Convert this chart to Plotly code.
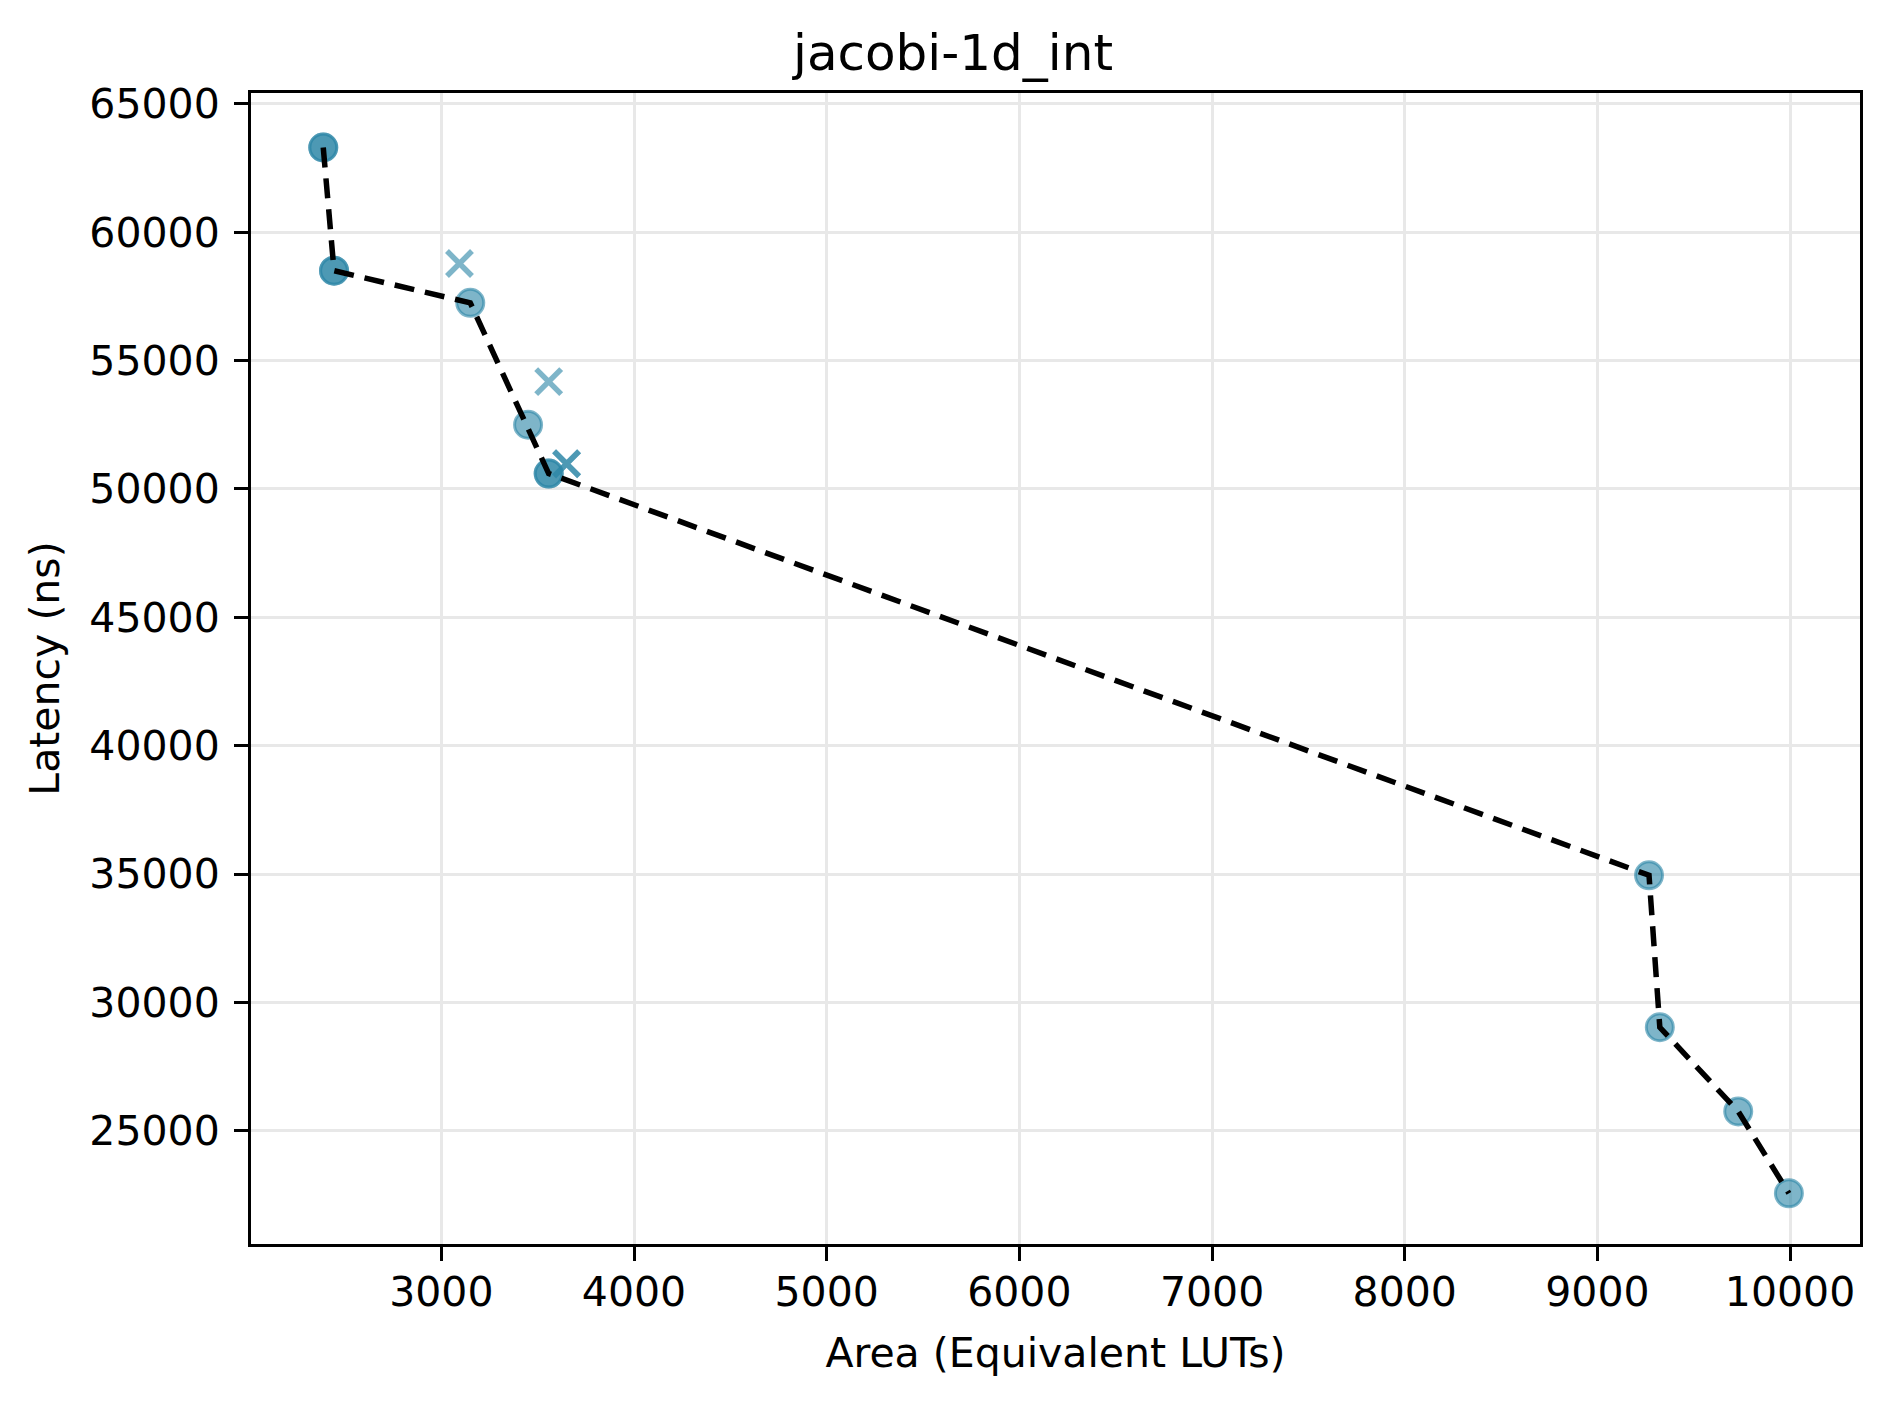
import plotly.graph_objects as go

# Puntos de diseño (circulos) - algunos repetidos, por eso se ven mas oscuros
area_circulos = [2387, 2387, 2443, 2443, 3150, 3450, 3557, 3557, 9268, 9324, 9731, 9994]
latencia_circulos = [63300, 63300, 58500, 58500, 57250, 52500, 50600, 50600, 34950, 29030, 25750, 22560]

# Puntos fallidos / descartados (cruces)
area_cruces = [3094, 3557, 3650, 3650]
latencia_cruces = [58780, 54180, 50980, 50980]

# Frontera de Pareto
area_pareto = [2387, 2443, 3150, 3557, 9268, 9324, 9731, 9994]
latencia_pareto = [63300, 58500, 57250, 50600, 34950, 29030, 25750, 22560]

x_ticks = [3000, 4000, 5000, 6000, 7000, 8000, 9000, 10000]
y_ticks = [25000, 30000, 35000, 40000, 45000, 50000, 55000, 60000, 65000]

color_base = "rgba(46,136,168,0.62)"
fuente = "DejaVu Sans"

fig = go.Figure()

fig.add_trace(go.Scatter(
    x=area_circulos, y=latencia_circulos,
    mode="markers",
    marker=dict(symbol="circle", size=27, color=color_base,
                line=dict(color=color_base, width=3)),
    showlegend=False,
))

fig.add_trace(go.Scatter(
    x=area_cruces, y=latencia_cruces,
    mode="markers",
    marker=dict(symbol="x-thin", size=25,
                line=dict(color=color_base, width=5.5)),
    showlegend=False,
))

fig.add_trace(go.Scatter(
    x=area_pareto, y=latencia_pareto,
    mode="lines",
    line=dict(color="black", width=5.5, dash="20px,11px"),
    showlegend=False,
))

eje = dict(
    showline=True, linecolor="black", linewidth=3, mirror=True,
    ticks="outside", ticklen=14, tickwidth=3, tickcolor="black",
    showgrid=True, gridcolor="#e8e8e8", gridwidth=3,
    zeroline=False,
    tickfont=dict(family=fuente, size=41, color="black"),
)

fig.update_layout(
    width=1890, height=1406,
    paper_bgcolor="white", plot_bgcolor="white",
    margin=dict(l=243, r=38, t=85, b=170),
    title=dict(text="jacobi-1d_int", x=0.5, xanchor="center",
               y=1 - 44 / 1406, yanchor="middle",
               font=dict(family=fuente, size=50, color="black")),
    font=dict(family=fuente, color="black"),
)

fig.update_xaxes(
    **eje, range=[2012, 10363], tickvals=x_ticks,
    ticktext=[str(v) for v in x_ticks], ticklabelstandoff=-4,
    title=dict(text="Area (Equivalent LUTs)", font=dict(family=fuente, size=41), standoff=24),
)
fig.update_yaxes(
    **eje, range=[20587, 65423], tickvals=y_ticks,
    ticktext=[str(v) for v in y_ticks], ticklabelstandoff=6,
    title=dict(text="Latency (ns)", font=dict(family=fuente, size=41), standoff=18),
)

fig.write_html("out.html")
